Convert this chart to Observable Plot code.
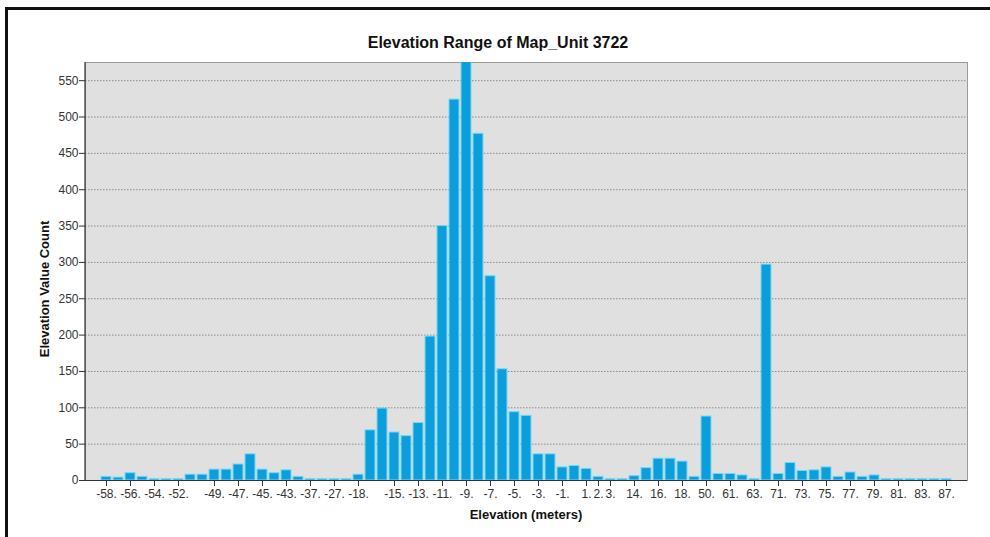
<!DOCTYPE html>
<html>
<head>
<meta charset="utf-8">
<script src="https://cdn.jsdelivr.net/npm/d3@7"></script>
<script src="https://cdn.jsdelivr.net/npm/@observablehq/plot@0.6"></script>
<style>
  html, body { margin: 0; padding: 0; background: #fff; }
  #wrap { position: relative; width: 990px; height: 537px; overflow: hidden; background: #fff;
          font-family: "Liberation Sans", Arial, sans-serif; }
  #frame { position: absolute; left: 5px; top: 7px; width: 990px; height: 540px;
           border-left: 3px solid #111; border-top: 3px solid #111; box-sizing: border-box; }
  #chart { position: absolute; left: 0; top: 0; }
  #title { position: absolute; left: 0; width: 996px; top: 33px; text-align: center;
           font-weight: bold; font-size: 16px; color: #111; line-height: 20px; }
  #xtitle { position: absolute; left: 85px; width: 882px; top: 507px; text-align: center;
            font-weight: bold; font-size: 13px; color: #111; line-height: 16px; }
  #ytitle { position: absolute; left: 45px; top: 289px; transform: translate(-50%, -50%) rotate(-90deg);
            white-space: nowrap; font-weight: bold; font-size: 13px; color: #111; line-height: 16px; }
</style>
</head>
<body>
<div id="wrap">
  <div id="frame"></div>
  <div id="chart"></div>
  <div id="title">Elevation Range of Map_Unit 3722</div>
  <div id="xtitle">Elevation (meters)</div>
  <div id="ytitle">Elevation Value Count</div>
</div>
<script>
// Elevation classes (one per bar, left to right)
const categories = [
  "-58.", "-57.", "-56.", "-55.", "-54.", "-53.", "-52.", "-51.", "-50.", "-49.",
  "-48.", "-47.", "-46.", "-45.", "-44.", "-43.", "-40.", "-37.", "-32.", "-27.",
  "-22.", "-18.", "-17.", "-16.", "-15.", "-14.", "-13.", "-12.", "-11.", "-10.",
  "-9.", "-8.", "-7.", "-6.", "-5.", "-4.", "-3.", "-2.", "-1.", "0.",
  "1.", "2.", "3.", "8.", "14.", "15.", "16.", "17.", "18.", "34.",
  "50.", "55.", "61.", "62.", "63.", "67.", "71.", "72.", "73.", "74.",
  "75.", "76.", "77.", "78.", "79.", "80.", "81.", "82.", "83.", "85.",
  "87."
];

// Elevation value counts (bar heights)
const counts = [
  5, 4, 10, 5, 2, 2, 2, 8, 8, 15,
  15, 22, 36, 15, 10, 14, 5, 2, 2, 2,
  2, 8, 69, 99, 66, 61, 79, 198, 350, 524,
  578, 477, 281, 153, 94, 89, 36, 36, 18, 20,
  16, 5, 2, 2, 6, 17, 30, 30, 26, 5,
  88, 9, 9, 7, 2, 297, 9, 24, 13, 14,
  18, 5, 11, 5, 7, 2, 2, 2, 2, 2,
  2
];

// Tick labels shown on the x axis
const xTickLabels = [
  "-58.", "-56.", "-54.", "-52.", "-49.", "-47.", "-45.", "-43.", "-37.", "-27.",
  "-18.", "-15.", "-13.", "-11.", "-9.", "-7.", "-5.", "-3.", "-1.", "1.",
  "2.", "3.", "14.", "16.", "18.", "50.", "61.", "63.", "71.", "73.",
  "75.", "77.", "79.", "81.", "83.", "87."
];

// Tick values on the y axis
const yTicks = [0, 50, 100, 150, 200, 250, 300, 350, 400, 450, 500, 550];

const data = categories.map((c, i) => ({elevation: c, count: counts[i]}));

const leftAxisLine = (index, scales, values, dims) => {
  const ns = "http://www.w3.org/2000/svg";
  const l = document.createElementNS(ns, "line");
  l.setAttribute("x1", dims.marginLeft);
  l.setAttribute("x2", dims.marginLeft);
  l.setAttribute("y1", dims.marginTop);
  l.setAttribute("y2", dims.height - dims.marginBottom);
  l.setAttribute("stroke", "#333");
  l.setAttribute("stroke-width", "1.2");
  return l;
};

const chart = Plot.plot({
  width: 990,
  height: 537,
  marginLeft: 85,
  marginRight: 23,
  marginTop: 62,
  marginBottom: 57,
  style: {
    fontFamily: '"Liberation Sans", Arial, sans-serif',
    fontSize: "12px",
    color: "#333",
    background: "transparent"
  },
  x: {type: "band", domain: categories, paddingInner: 0.2, paddingOuter: 0.35, align: 0.5},
  y: {domain: [0, 575]},
  marks: [
    Plot.frame({fill: "#e0e0e0", stroke: "#9a9a9a"}),
    Plot.ruleY(yTicks.filter(v => v > 0), {stroke: "#8a8a8a", strokeDasharray: "1.5,1.5", strokeWidth: 1}),
    Plot.barY(data, {x: "elevation", y: "count", fill: "#0c9ddb", stroke: "#74d8f8", strokeWidth: 1, clip: true}),
    Plot.ruleY([0], {stroke: "#333", strokeWidth: 1.2}),
    leftAxisLine,
    Plot.axisY({ticks: yTicks, tickSize: 6, tickPadding: 1, label: null, fontSize: 12}),
    Plot.axisX({ticks: xTickLabels, tickSize: 6, tickPadding: 3, label: null, fontSize: 12})
  ]
});
document.getElementById("chart").appendChild(chart);
</script>
</body>
</html>
